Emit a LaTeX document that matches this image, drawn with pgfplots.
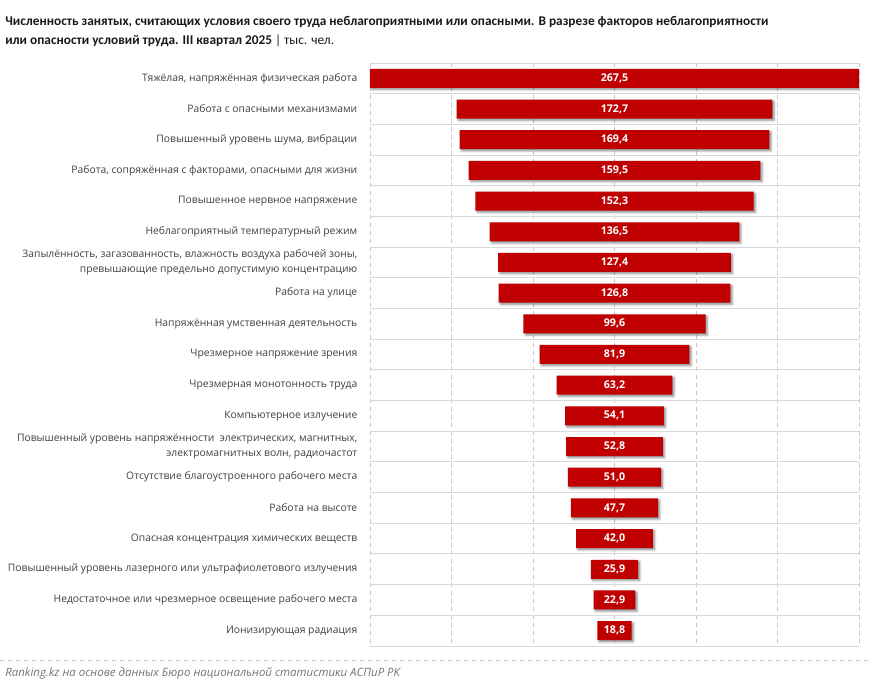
\documentclass[border=0pt]{standalone}
\usepackage{pgfplots}
\usepackage{pgfplotstable}
\pgfplotsset{compat=1.18}
\usepackage{fontspec}
\setmainfont{Open Sans}
\newfontfamily\titlefont{Carlito}
\usetikzlibrary{shadows.blur}
\definecolor{barred}{HTML}{C00000}
\definecolor{labgray}{HTML}{404040}
\definecolor{majgrid}{HTML}{C8C8C8}
\definecolor{mingrid}{HTML}{E8E8E8}
\definecolor{rowgrid}{HTML}{D9D9D9}
\pgfplotstableread{
row off val mid
0 0 267.5 133.75
1 47.4 172.7 133.75
2 49.05 169.4 133.75
3 54 159.5 133.75
4 57.6 152.3 133.75
5 65.5 136.5 133.75
6 70.05 127.4 133.75
7 70.35 126.8 133.75
8 83.95 99.6 133.75
9 92.8 81.9 133.75
10 102.15 63.2 133.75
11 106.7 54.1 133.75
12 107.35 52.8 133.75
13 108.25 51.0 133.75
14 109.9 47.7 133.75
15 112.75 42.0 133.75
16 120.8 25.9 133.75
17 122.3 22.9 133.75
18 124.35 18.8 133.75
}\data
\begin{document}
\begin{tikzpicture}
\useasboundingbox (0,0) rectangle (654pt,513.75pt);
\node[anchor=base west, inner sep=0pt, font=\titlefont\bfseries\fontsize{10pt}{12pt}\selectfont, text=black!90] at (3.75pt,494.5pt) {Численность занятых, считающих условия своего труда неблагоприятными или опасными. В разрезе факторов неблагоприятности};
\node[anchor=base west, inner sep=0pt, font=\titlefont\fontsize{10pt}{12pt}\selectfont, text=black!90] at (3.75pt,480pt) {\textbf{или опасности условий труда. III квартал 2025} | тыс. чел.};
\draw[dashed, color=majgrid, line width=0.6pt] (0,18.75pt) -- (654pt,18.75pt);
\node[anchor=base west, inner sep=0pt, font=\itshape\fontsize{8.6pt}{10pt}\selectfont, text=black!55] at (3.75pt,6.5pt) {Ranking.kz на основе данных Бюро национальной статистики АСПиР РК};
\begin{axis}[
  at={(277.5pt,29.25pt)}, anchor=south west, scale only axis,
  width=366.75pt, height=437.25pt,
  xmin=0, xmax=267.5, ymin=-0.5, ymax=18.5, y dir=reverse,
  xbar stacked, bar width=14.25pt,
  axis line style={draw=none},
  xtick={0,44.5833,89.1667,133.75,178.3333,222.9167,267.5},
  xticklabels={}, minor x tick num=4,
  xmajorgrids, xminorgrids,
  major x grid style={dashed, color=majgrid, line width=0.6pt},
  minor x grid style={solid, color=mingrid, line width=0.6pt},
  ytick={0,...,18},
  minor ytick={-0.5,0.5,...,18.5},
  yminorgrids,
  minor y grid style={solid, color=rowgrid, line width=0.7pt},
  major tick length=0pt, minor tick length=0pt,
  tick style={draw=none},
  yticklabel style={align=right, text=labgray, font=\fontsize{7.75pt}{11.3pt}\selectfont, xshift=-6pt},
  yticklabels={
    {Тяжёлая, напряжённая физическая работа},
    {Работа с опасными механизмами},
    {Повышенный уровень шума, вибрации},
    {Работа, сопряжённая с факторами, опасными для жизни},
    {Повышенное нервное напряжение},
    {Неблагоприятный температурный режим},
    {Запылённость, загазованность, влажность воздуха рабочей зоны,\\превышающие предельно допустимую концентрацию},
    {Работа на улице},
    {Напряжённая умственная деятельность},
    {Чрезмерное напряжение зрения},
    {Чрезмерная монотонность труда},
    {Компьютерное излучение},
    {Повышенный уровень напряжённости \ электрических, магнитных,\\электромагнитных волн, радиочастот},
    {Отсутствие благоустроенного рабочего места},
    {Работа на высоте},
    {Опасная концентрация химических веществ},
    {Повышенный уровень лазерного или ультрафиолетового излучения},
    {Недостаточное или чрезмерное освещение рабочего места},
    {Ионизирующая радиация}
  },
]
\addplot[draw=none, fill=none] table[x=off, y=row] \data;
\addplot[fill=barred, draw=none, blur shadow={shadow xshift=1.3pt, shadow yshift=-1.3pt, shadow blur radius=1.6pt, shadow opacity=45}] table[x=val, y=row] \data;
\end{axis}
\begin{axis}[
  at={(277.5pt,29.25pt)}, anchor=south west, scale only axis,
  width=366.75pt, height=437.25pt,
  xmin=0, xmax=267.5, ymin=-0.5, ymax=18.5, y dir=reverse,
  hide axis,
]
\addplot[draw=none, mark=none, point meta=explicit,
  nodes near coords={\pgfmathprintnumber[use comma, fixed, fixed zerofill, precision=1, assume math mode=true]{\pgfplotspointmeta}},
  every node near coord/.append style={anchor=center, text=white, font=\bfseries\fontsize{8pt}{10pt}\selectfont, inner sep=0pt}]
  table[x=mid, y=row, meta=val] \data;
\end{axis}
\end{tikzpicture}
\end{document}
